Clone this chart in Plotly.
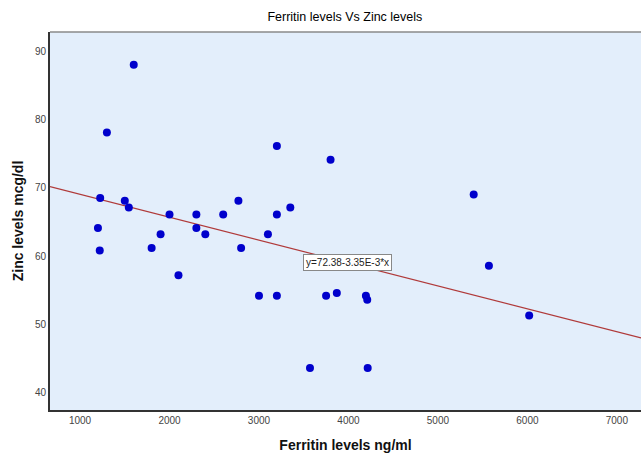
import plotly.graph_objects as go

ferritin = [1600, 1300, 3200, 1225, 1500, 1545, 1200, 1220, 2000, 1900, 1800, 2100,
            2300, 2300, 2400, 2600, 2770, 2800, 3100, 3200, 3000, 3200, 3800, 5400,
            5570, 6020, 3750, 3870, 4195, 4210, 3570, 4215, 3350]
zinc = [88, 78.1, 76.1, 68.5, 68.1, 67.1, 64.1, 60.8, 66.1, 63.2, 61.2, 57.2,
        66.1, 64.1, 63.2, 66.1, 68.1, 61.2, 63.2, 66.1, 54.2, 54.2, 74.1, 69.0,
        58.6, 51.3, 54.2, 54.6, 54.2, 53.6, 43.6, 43.6, 67.1]

intercept = 72.38
slope = -3.35e-3
x_range = [664, 7270]
y_range = [37.47, 92.8]
x_ticks = [1000, 2000, 3000, 4000, 5000, 6000, 7000]
y_ticks = [40, 50, 60, 70, 80, 90]
fit_label = "y=72.38-3.35E-3*x"
label_pos = (3990, 59.1)

fit_x = x_range
fit_y = [intercept + slope * v for v in fit_x]

fig = go.Figure()
fig.add_trace(go.Scatter(x=fit_x, y=fit_y, mode="lines",
                         line=dict(color="#B03A3A", width=1.2),
                         hoverinfo="skip", showlegend=False))
fig.add_trace(go.Scatter(x=ferritin, y=zinc, mode="markers",
                         marker=dict(color="#0000CC", size=8),
                         showlegend=False))

fig.add_annotation(x=label_pos[0], y=label_pos[1], text=fit_label, showarrow=False,
                   font=dict(family="Liberation Sans", size=10, color="#222"),
                   bgcolor="white", bordercolor="#888", borderwidth=1, borderpad=2)

fig.add_shape(type="line", xref="paper", yref="paper", x0=0, x1=1, y0=1, y1=1,
              line=dict(color="#8A8A8A", width=1.5))

fig.update_layout(
    width=641, height=455,
    margin=dict(l=50, r=0, t=32, b=45),
    paper_bgcolor="white", plot_bgcolor="#E3EEFB",
    title=dict(text="Ferritin levels Vs Zinc levels", x=0.538, xanchor="center",
               y=0.963, yanchor="middle",
               font=dict(family="Liberation Sans", size=12.5, color="#000")),
    font=dict(family="Liberation Sans"),
)
fig.update_xaxes(range=x_range, tickvals=x_ticks, showgrid=False, zeroline=False,
                 showline=True, linecolor="#333", linewidth=2, ticks="",
                 tickfont=dict(size=10, color="#444"),
                 title=dict(text="<b>Ferritin levels ng/ml</b>", standoff=15,
                            font=dict(size=14, color="#111")))
fig.update_yaxes(range=y_range, tickvals=y_ticks, showgrid=False, zeroline=False,
                 showline=True, linecolor="#333", linewidth=2, ticks="",
                 tickfont=dict(size=10, color="#444"),
                 title=dict(text="<b>Zinc levels mcg/dl</b>", standoff=8,
                            font=dict(size=14, color="#111")))

fig.write_html("out.html", config={"displayModeBar": False},
               post_script="document.body.style.margin='0';document.body.style.overflow='hidden';")
